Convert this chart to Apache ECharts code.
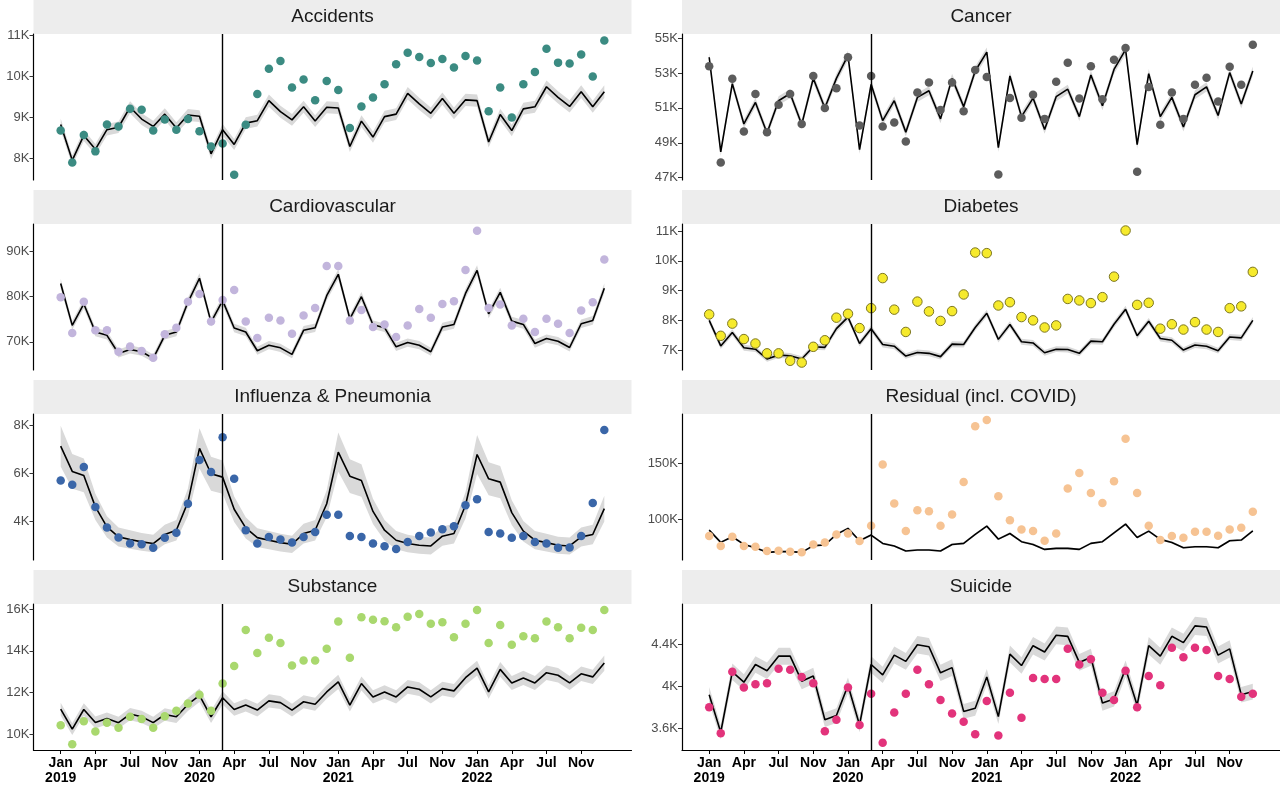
<!DOCTYPE html>
<html>
<head>
<meta charset="utf-8">
<script src="https://cdn.jsdelivr.net/npm/echarts@6/dist/echarts.min.js"></script>
<style>
	html, body { margin: 0; padding: 0; background: #fff; }
	#chart { width: 1280px; height: 786px; }
</style>
</head>
<body>
<div id="chart"></div>
<script>
// monthly values Jan 2019 .. Dec 2022, in thousands of deaths
const tickLabels = ['Jan\n2019', 'Apr', 'Jul', 'Nov', 'Jan\n2020', 'Apr', 'Jul', 'Nov',
	'Jan\n2021', 'Apr', 'Jul', 'Nov', 'Jan\n2022', 'Apr', 'Jul', 'Nov'];
const tickIndex = [0, 3, 6, 9, 12, 15, 18, 21, 24, 27, 30, 33, 36, 39, 42, 45];
const covidStart = 14; // Mar 2020

const accObs = [8.68, 7.90, 8.57, 8.17, 8.83, 8.78, 9.21, 9.19, 8.68, 8.95, 8.70, 8.96,
	8.66, 8.29, 8.36, 7.60, 8.82, 9.57, 10.19, 10.38, 9.73, 9.93, 9.42, 9.89,
	9.67, 8.74, 9.27, 9.49, 9.81, 10.30, 10.58, 10.48, 10.33, 10.43, 10.22, 10.50,
	10.39, 9.15, 9.73, 9.00, 9.81, 10.11, 10.68, 10.34, 10.32, 10.54, 10.00, 10.88];
const accExp = [8.83, 7.95, 8.56, 8.22, 8.70, 8.76, 9.25, 8.96, 8.78, 9.08, 8.74, 9.06,
	9.03, 8.11, 8.70, 8.34, 8.86, 8.92, 9.41, 9.14, 8.94, 9.26, 8.91, 9.25,
	9.23, 8.29, 8.91, 8.52, 9.02, 9.08, 9.59, 9.33, 9.10, 9.46, 9.10, 9.43,
	9.41, 8.40, 9.07, 8.68, 9.21, 9.26, 9.75, 9.49, 9.27, 9.63, 9.26, 9.63];

const cancerObs = [53.39, 47.87, 52.67, 49.65, 51.79, 49.61, 51.18, 51.79, 50.08, 52.83, 50.99, 52.13,
	53.90, 49.99, 52.83, 49.93, 50.16, 49.08, 51.88, 52.45, 50.88, 52.45, 50.80, 53.17,
	52.77, 47.19, 51.56, 50.43, 51.75, 50.37, 52.49, 53.58, 51.54, 53.39, 51.50, 53.75,
	54.43, 47.34, 52.20, 50.03, 51.88, 50.37, 52.32, 52.73, 51.37, 53.36, 52.32, 54.62];
const cancerExp = [53.90, 48.48, 52.39, 50.08, 51.31, 49.56, 51.41, 51.82, 50.05, 52.69, 50.99, 52.69,
	54.00, 48.61, 52.35, 50.27, 51.41, 49.61, 51.60, 51.98, 50.37, 52.69, 51.07, 53.11,
	54.19, 48.72, 52.83, 50.50, 51.56, 49.76, 51.64, 52.07, 50.50, 52.88, 51.12, 53.20,
	54.34, 48.89, 52.96, 50.50, 51.60, 49.90, 51.75, 52.20, 50.56, 53.02, 51.22, 53.11];

const cardioObs = [79.82, 71.96, 78.87, 72.55, 72.55, 67.8, 69.0, 68.0, 66.5, 71.67, 73.13, 78.87,
	80.55, 74.51, 79.24, 81.42, 74.51, 70.87, 75.31, 74.73, 71.82, 75.82, 77.49, 86.73,
	86.73, 74.73, 77.05, 73.27, 73.85, 71.09, 73.64, 77.27, 75.31, 78.36, 78.95, 85.85,
	94.51, 77.49, 78.22, 73.64, 75.09, 72.18, 75.09, 74.0, 71.96, 76.91, 78.73, 88.18];
const cardioExp = [82.87, 73.64, 78.36, 72.18, 71.45, 67.45, 68.33, 67.82, 66.36, 71.45, 72.18, 78.73,
	84.04, 74.36, 79.09, 73.05, 72.18, 68.04, 69.27, 68.69, 67.24, 72.55, 73.13, 80.18,
	84.91, 75.09, 79.96, 73.78, 73.13, 68.91, 69.85, 69.27, 67.82, 73.27, 73.85, 80.69,
	85.78, 76.18, 80.91, 74.58, 73.85, 69.64, 70.73, 70.15, 68.76, 74.0, 74.73, 81.85];

const diabObs = [8.20, 7.48, 7.89, 7.37, 7.22, 6.89, 6.89, 6.64, 6.58, 7.11, 7.33, 8.09,
	8.22, 7.74, 8.41, 9.42, 8.36, 7.61, 8.63, 8.30, 7.98, 8.31, 8.87, 10.28,
	10.26, 8.50, 8.61, 8.11, 8.00, 7.76, 7.83, 8.72, 8.67, 8.58, 8.78, 9.47,
	11.02, 8.52, 8.59, 7.72, 7.87, 7.69, 7.94, 7.69, 7.61, 8.41, 8.47, 9.63];
const diabExp = [8.00, 7.14, 7.59, 7.08, 7.03, 6.70, 6.83, 6.81, 6.70, 7.11, 7.09, 7.72,
	8.11, 7.22, 7.72, 7.19, 7.13, 6.80, 6.92, 6.89, 6.78, 7.20, 7.19, 7.76,
	8.24, 7.36, 7.86, 7.28, 7.24, 6.91, 7.03, 7.02, 6.89, 7.30, 7.28, 7.87,
	8.37, 7.48, 7.97, 7.39, 7.33, 7.00, 7.17, 7.13, 6.98, 7.44, 7.41, 8.00];

const fluObs = [5.70, 5.52, 6.26, 4.59, 3.72, 3.30, 3.05, 3.02, 2.87, 3.29, 3.50, 4.72,
	6.56, 6.05, 7.51, 5.77, 3.61, 3.05, 3.33, 3.22, 3.09, 3.33, 3.54, 4.26,
	4.26, 3.37, 3.33, 3.05, 2.94, 2.82, 3.12, 3.37, 3.51, 3.65, 3.78, 4.66,
	4.91, 3.54, 3.47, 3.29, 3.37, 3.12, 3.05, 2.87, 2.88, 3.37, 4.75, 7.82];
const fluExp = [7.14, 6.08, 5.91, 4.59, 3.75, 3.33, 3.22, 3.12, 3.05, 3.43, 3.61, 4.79,
	7.05, 5.98, 5.84, 4.49, 3.71, 3.30, 3.19, 3.09, 3.02, 3.47, 3.61, 4.72,
	6.89, 5.88, 5.70, 4.40, 3.61, 3.19, 3.05, 2.98, 2.95, 3.36, 3.47, 4.66,
	6.79, 5.77, 5.63, 4.35, 3.57, 3.19, 3.09, 2.98, 2.95, 3.33, 3.43, 4.52];

const resObs = [85.3, 76.5, 84.7, 76.5, 75.9, 72.1, 72.4, 71.5, 70.9, 77.9, 79.7, 86.8,
	87.6, 80.9, 94.4, 148.8, 114.1, 89.7, 108.2, 107.4, 94.4, 104.4, 133.2, 182.6,
	188.2, 120.6, 99.4, 91.2, 89.7, 81.2, 87.6, 127.4, 141.2, 123.5, 114.7, 133.8,
	171.5, 123.5, 94.4, 81.8, 85.3, 83.8, 89.1, 89.1, 85.6, 91.2, 92.6, 106.8];
const resExp = [90.6, 79.7, 84.7, 77.9, 75.0, 70.9, 71.5, 71.5, 70.9, 76.8, 77.4, 86.8,
	92.1, 81.2, 86.2, 78.8, 76.5, 72.1, 72.9, 72.9, 72.1, 77.9, 78.8, 86.8,
	94.1, 82.6, 87.6, 80.3, 77.9, 73.5, 74.4, 74.4, 73.5, 78.8, 80.3, 88.2,
	95.9, 84.1, 89.7, 82.4, 79.7, 75.0, 75.9, 75.9, 75.0, 81.2, 81.8, 90.0];

const subObs = [10.44, 9.52, 10.63, 10.13, 10.56, 10.32, 10.84, 10.73, 10.32, 10.87, 11.13, 11.48,
	11.90, 11.13, 12.43, 13.27, 15.00, 13.89, 14.62, 14.37, 13.30, 13.54, 13.54, 14.10,
	15.40, 13.67, 15.60, 15.49, 15.41, 15.13, 15.63, 15.76, 15.29, 15.37, 14.65, 15.29,
	15.95, 14.37, 15.24, 14.29, 14.70, 14.60, 15.40, 15.13, 14.60, 15.10, 15.00, 15.95];
const subExp = [11.21, 10.25, 11.19, 10.57, 10.76, 10.56, 10.97, 10.84, 10.56, 10.95, 10.84, 11.43,
	11.87, 10.84, 11.75, 11.19, 11.40, 11.16, 11.60, 11.52, 11.16, 11.56, 11.44, 12.03,
	12.51, 11.40, 12.43, 11.79, 12.03, 11.79, 12.27, 12.16, 11.79, 12.19, 12.08, 12.71,
	13.17, 12.03, 13.11, 12.46, 12.70, 12.46, 12.95, 12.83, 12.46, 12.90, 12.75, 13.41];

const suiObs = [3.80, 3.55, 4.14, 3.99, 4.02, 4.03, 4.17, 4.16, 4.09, 4.03, 3.57, 3.68,
	3.99, 3.63, 3.93, 3.46, 3.75, 3.93, 4.16, 4.02, 3.87, 3.74, 3.66, 3.54,
	3.86, 3.53, 3.94, 3.70, 4.08, 4.07, 4.07, 4.36, 4.21, 4.26, 3.94, 3.87,
	4.15, 3.80, 4.10, 4.01, 4.37, 4.28, 4.37, 4.35, 4.10, 4.07, 3.90, 3.93];
const suiExp = [3.92, 3.56, 4.14, 4.04, 4.21, 4.15, 4.29, 4.29, 4.05, 4.10, 3.68, 3.72,
	4.01, 3.63, 4.21, 4.11, 4.30, 4.24, 4.40, 4.38, 4.13, 4.18, 3.76, 3.79,
	4.09, 3.71, 4.31, 4.20, 4.39, 4.33, 4.49, 4.48, 4.23, 4.28, 3.84, 3.88,
	4.17, 3.82, 4.39, 4.29, 4.48, 4.42, 4.58, 4.57, 4.30, 4.36, 3.92, 3.95];

// panel setup: name, data, colour, y range / ticks, half width of the grey band (share of expected)
const panels = [
	{ name: 'Accidents', obs: accObs, exp: accExp, color: '#3b8b82', min: 7.47, max: 11.04, ticks: [8, 9, 10, 11], band: 0.016 },
	{ name: 'Cancer', obs: cancerObs, exp: cancerExp, color: '#5c5c5c', min: 46.87, max: 55.23, ticks: [47, 49, 51, 53, 55], band: 0.005 },
	{ name: 'Cardiovascular', obs: cardioObs, exp: cardioExp, color: '#c2b5dc', min: 63.8, max: 96, ticks: [70, 80, 90], band: 0.013 },
	{ name: 'Diabetes', obs: diabObs, exp: diabExp, color: '#f6ea2c', border: '#7d7722', min: 6.33, max: 11.24, ticks: [7, 8, 9, 10, 11], band: 0.014 },
	{ name: 'Influenza & Pneumonia', obs: fluObs, exp: fluExp, color: '#3a66a8', min: 2.36, max: 8.49, ticks: [4, 6, 8], band: 0.12 },
	{ name: 'Residual (incl. COVID)', obs: resObs, exp: resExp, color: '#f6c393', min: 64.1, max: 193.5, ticks: [100, 150], band: 0.012 },
	{ name: 'Substance', obs: subObs, exp: subExp, color: '#a9d86e', min: 9.25, max: 16.24, ticks: [10, 12, 14, 16], band: 0.027 },
	{ name: 'Suicide', obs: suiObs, exp: suiExp, color: '#e2337b', min: 3.39, max: 4.79, ticks: [3.6, 4, 4.4], band: 0.019 }
];

const FONT = '"Liberation Sans", Arial, sans-serif';
const colLeft = [33.5, 682];
const plotW = 598;
const plotTop = [34, 224, 414, 604];
const plotH = 146;
const stripH = 34;

const grids = [], xAxes = [], yAxes = [], series = [], graphics = [];

panels.forEach((p, i) => {
	const row = Math.floor(i / 2);
	const col = i % 2;
	const bottom = row === 3;

	grids.push({ left: colLeft[col], top: plotTop[row], width: plotW, height: plotH });

	graphics.push({
		type: 'rect',
		shape: { x: colLeft[col], y: plotTop[row] - stripH, width: plotW, height: stripH },
		style: { fill: '#ededed' },
		silent: true
	});
	graphics.push({
		type: 'text',
		x: colLeft[col] + plotW / 2,
		y: plotTop[row] - stripH / 2,
		style: { text: p.name, font: '19px ' + FONT, fill: '#1a1a1a', align: 'center', verticalAlign: 'middle' },
		silent: true
	});

	xAxes.push({
		type: 'value',
		gridIndex: i,
		min: -2.35,
		max: 49.35,
		splitLine: { show: false },
		axisLine: { show: bottom, onZero: false, lineStyle: { color: '#000', width: 1.2 } },
		axisTick: { show: bottom, customValues: tickIndex, length: 4, lineStyle: { color: '#000' } },
		axisLabel: {
			show: bottom,
			customValues: tickIndex,
			formatter: (v) => tickLabels[tickIndex.indexOf(Math.round(v))] || '',
			color: '#000',
			fontWeight: 'bold',
			fontSize: 14,
			fontFamily: FONT,
			lineHeight: 15,
			margin: 6
		}
	});

	yAxes.push({
		type: 'value',
		gridIndex: i,
		min: p.min,
		max: p.max,
		splitLine: { show: false },
		axisLine: { show: true, onZero: false, lineStyle: { color: '#000', width: 1.2 } },
		axisTick: { show: true, customValues: p.ticks, length: 4, lineStyle: { color: '#333' } },
		axisLabel: {
			customValues: p.ticks,
			formatter: (v) => v + 'K',
			color: '#4d4d4d',
			fontSize: 13,
			fontFamily: FONT,
			margin: 4
		}
	});

	const expPts = p.exp.map((v, k) => [k, v]);

	// grey band around the expected line
	series.push({
		type: 'custom',
		xAxisIndex: i,
		yAxisIndex: i,
		silent: true,
		z: 1,
		data: expPts,
		renderItem: (params, api) => {
			if (params.dataIndex !== 0) {
				return null;
			}
			const pts = [];
			for (let k = 0; k < p.exp.length; k++) {
				pts.push(api.coord([k, p.exp[k] * (1 + p.band)]));
			}
			for (let k = p.exp.length - 1; k >= 0; k--) {
				pts.push(api.coord([k, p.exp[k] * (1 - p.band)]));
			}
			return { type: 'polygon', shape: { points: pts }, style: { fill: '#d9d9d9' } };
		}
	});

	series.push({
		type: 'line',
		xAxisIndex: i,
		yAxisIndex: i,
		data: expPts,
		symbol: 'none',
		silent: true,
		z: 2,
		lineStyle: { color: '#000', width: 1.6 },
		markLine: {
			silent: true,
			symbol: ['none', 'none'],
			label: { show: false },
			lineStyle: { color: '#000', width: 1.4, type: 'solid' },
			data: [{ xAxis: covidStart }]
		}
	});

	series.push({
		type: 'scatter',
		xAxisIndex: i,
		yAxisIndex: i,
		data: p.obs.map((v, k) => [k, v]),
		symbolSize: p.border ? 9.5 : 8.5,
		silent: true,
		z: 3,
		itemStyle: {
			color: p.color,
			opacity: 1,
			borderColor: p.border || p.color,
			borderWidth: p.border ? 1 : 0
		}
	});
});

const myChart = echarts.init(document.getElementById('chart'), null, { renderer: 'canvas' });
myChart.setOption({
	animation: false,
	backgroundColor: '#fff',
	grid: grids,
	xAxis: xAxes,
	yAxis: yAxes,
	series: series,
	graphic: graphics
});
</script>
</body>
</html>
